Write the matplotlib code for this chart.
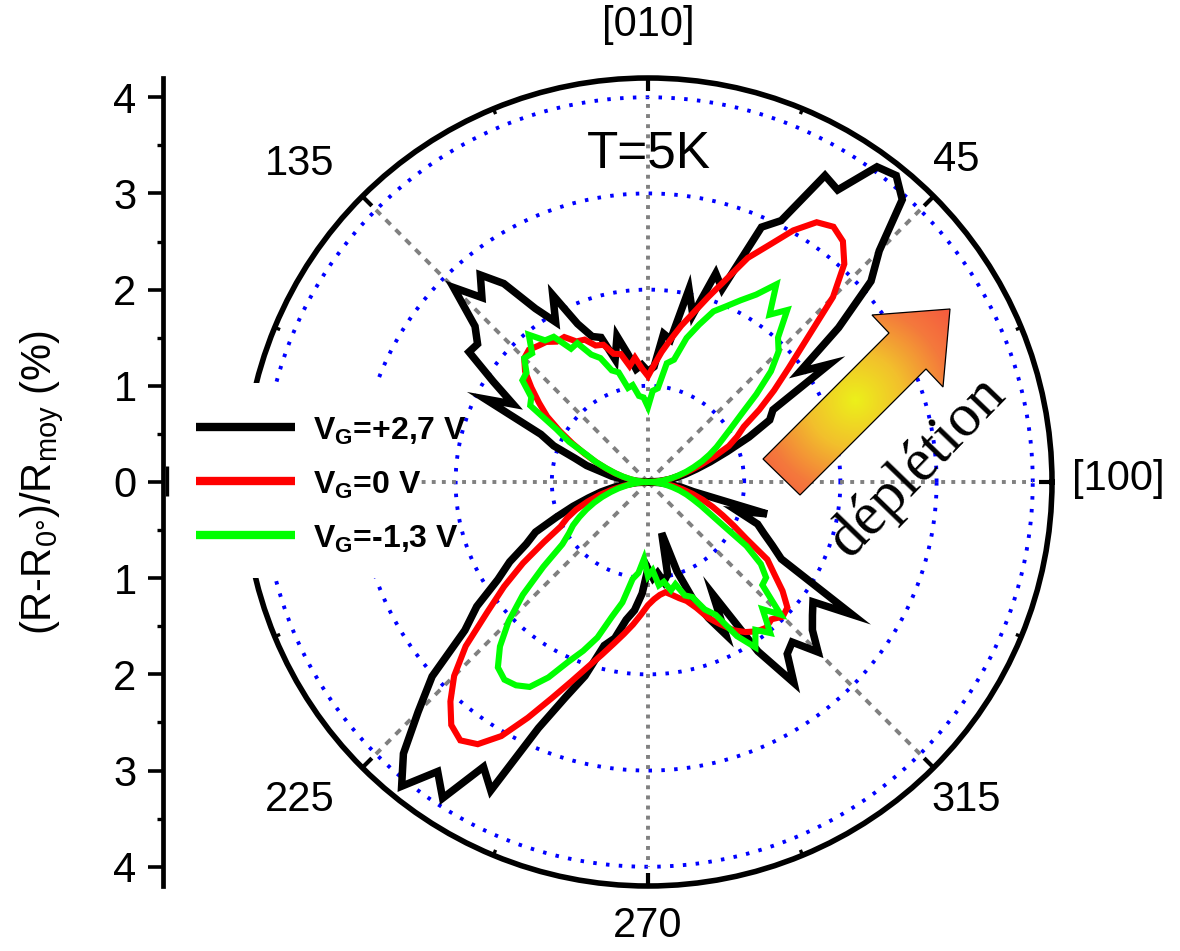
import numpy as np
import matplotlib
matplotlib.use("Agg")
import matplotlib.pyplot as plt
from matplotlib.patches import Polygon, Rectangle
from matplotlib.colors import LinearSegmentedColormap

plt.rcParams['font.family'] = ['Liberation Sans', 'DejaVu Sans']
plt.rcParams['mathtext.fontset'] = 'custom'
plt.rcParams['mathtext.rm'] = 'Liberation Sans'
plt.rcParams['mathtext.it'] = 'Liberation Sans:italic'
plt.rcParams['mathtext.bf'] = 'Liberation Sans:bold'

# ---- data: relative resistance change (%) versus in-plane angle (deg) ----
angle_deg = np.arange(0, 360, 3)

r_vg_p27 = [
    0.00, 0.12, 0.22, 0.30, 0.40, 0.52, 0.68, 0.88, 1.15, 1.42, 1.50, 2.25,
    1.95, 2.55, 3.12, 3.40, 3.95, 4.10, 4.05, 3.62, 3.68, 3.05, 2.90, 2.15,
    2.28, 1.80, 2.05, 1.50, 1.55, 1.20, 1.15, 1.22, 1.18, 1.35, 1.55, 1.32,
    1.58, 1.62, 1.80, 2.18, 1.92, 2.15, 2.55, 2.77, 2.58, 2.86, 2.42, 2.28,
    2.30, 1.92, 1.62, 1.90, 1.22, 1.05, 0.80, 0.66, 0.48, 0.38, 0.25, 0.12,
    0.00, 0.12, 0.24, 0.36, 0.50, 0.64, 0.82, 1.02, 1.28, 1.42, 1.66, 1.86,
    2.20, 2.45, 3.02, 3.38, 3.80, 4.07, 3.72, 3.92, 3.42, 3.60, 2.80, 2.40,
    2.12, 1.76, 1.66, 1.45, 1.34, 1.16, 0.90, 1.00, 0.95, 1.05, 0.98, 0.55,
    0.98, 1.30, 1.55, 1.78, 1.35, 2.10, 2.58, 2.30, 2.24, 2.50, 2.30, 2.20,
    2.12, 2.53, 1.60, 1.45, 1.32, 1.22, 0.98, 1.28, 0.48, 0.35, 0.22, 0.12,
]

r_vg_0 = [
    0.00, 0.08, 0.16, 0.25, 0.34, 0.45, 0.58, 0.74, 0.92, 1.04, 1.15, 1.38,
    1.62, 1.88, 2.22, 2.72, 3.05, 3.22, 3.28, 3.22, 3.02, 2.76, 2.55, 2.25,
    2.02, 1.82, 1.66, 1.50, 1.36, 1.22, 1.10, 1.18, 1.30, 1.22, 1.36, 1.38,
    1.50, 1.52, 1.62, 1.64, 1.74, 1.74, 1.80, 1.82, 1.85, 1.82, 1.72, 1.56,
    1.40, 1.25, 1.06, 0.88, 0.72, 0.58, 0.46, 0.36, 0.27, 0.19, 0.12, 0.06,
    0.00, 0.08, 0.16, 0.26, 0.38, 0.52, 0.66, 0.80, 0.92, 1.02, 1.25, 1.55,
    1.85, 2.15, 2.55, 2.85, 3.07, 3.25, 3.32, 3.25, 3.05, 2.75, 2.46, 2.22,
    2.02, 1.86, 1.72, 1.60, 1.49, 1.38, 1.28, 1.22, 1.18, 1.16, 1.20, 1.25,
    1.30, 1.40, 1.55, 1.66, 1.78, 1.86, 1.92, 1.95, 1.92, 1.98, 1.95, 1.80,
    1.62, 1.48, 1.18, 1.00, 0.85, 0.72, 0.60, 0.48, 0.37, 0.27, 0.17, 0.08,
]

r_vg_m13 = [
    0.00, 0.08, 0.16, 0.24, 0.32, 0.41, 0.50, 0.60, 0.70, 0.80, 0.90, 1.03,
    1.20, 1.45, 1.72, 1.92, 2.02, 2.30, 2.15, 2.45, 2.25, 2.12, 2.00, 1.90,
    1.72, 1.55, 1.30, 1.25, 0.98, 0.95, 0.78, 0.88, 0.90, 1.02, 1.00, 1.18,
    1.22, 1.38, 1.45, 1.62, 1.60, 1.80, 1.82, 1.97, 1.80, 1.82, 1.70, 1.68,
    1.50, 1.46, 1.10, 0.92, 0.70, 0.58, 0.45, 0.35, 0.26, 0.18, 0.11, 0.05,
    0.00, 0.07, 0.14, 0.22, 0.31, 0.40, 0.50, 0.60, 0.70, 0.80, 0.90, 0.98,
    1.10, 1.40, 1.75, 2.05, 2.30, 2.48, 2.54, 2.52, 2.46, 2.28, 2.05, 1.88,
    1.70, 1.45, 1.28, 1.02, 0.95, 0.80, 0.98, 0.92, 1.08, 1.05, 1.15, 1.10,
    1.24, 1.28, 1.45, 1.55, 1.85, 2.05, 1.90, 2.02, 1.78, 1.95, 1.60, 1.58,
    1.45, 1.22, 0.90, 0.72, 0.60, 0.50, 0.42, 0.34, 0.26, 0.19, 0.12, 0.06,
]

series_labels = [r"$\mathbf{V_G}$=+2,7 V", r"$\mathbf{V_G}$=0 V", r"$\mathbf{V_G}$=-1,3 V"]
series_colors = ['black', '#ff0000', '#00ff00']
grid_radii = [1, 2, 3, 4]
left_ticks = [-4, -3, -2, -1, 0, 1, 2, 3, 4]

W, H = 1180, 951
fig = plt.figure(figsize=(W / 100, H / 100), dpi=100)
fig.patch.set_facecolor('white')

# ---- polar axes ----
R_MAX = 4.2
cx, cy, rad = 648, 482, 404
ax = fig.add_axes([(cx - rad) / W, (H - cy - rad) / H, 2 * rad / W, 2 * rad / H],
                  projection='polar')
ax.set_ylim(0, R_MAX)
ax.grid(False)
ax.set_yticks([])
ax.set_xticks([])
ax.spines['polar'].set_linewidth(4.0)

# inward ticks on the outer circle
for a in np.arange(0, 360, 22.5):
    t = np.deg2rad(a)
    major = (a % 45 == 0)
    ln = 0.14 if major else 0.06
    ax.plot([t, t], [R_MAX - ln, R_MAX], color='black', lw=3.0 if major else 2.4,
            solid_capstyle='butt', clip_on=False, zorder=4)

th_full = np.linspace(0, 2 * np.pi, 721)
for rr in grid_radii:
    ax.plot(th_full, np.full_like(th_full, rr), color='#0000ff', lw=2.8,
            ls=(0, (0.9, 2.4)), zorder=1)
for a in range(0, 360, 45):
    t = np.deg2rad(a)
    style = (0, (1.0, 1.6)) if a % 90 == 0 else (0, (1.8, 1.8))
    ax.plot([t, t], [0, 4], color='#808080', lw=2.8, ls=style, zorder=1)

theta = np.deg2rad(np.append(angle_deg, 360))
widths = [5.4, 4.4, 4.4]
for vals, col, lw in zip([r_vg_p27, r_vg_0, r_vg_m13], series_colors, widths):
    rv = np.append(vals, vals[0])
    ax.plot(theta, rv, color=col, lw=lw, solid_joinstyle='miter', zorder=3)

# ---- vertical scale on the left ----
axl = fig.add_axes([163 / W, (H - cy - rad) / H, 0.0005, 2 * rad / H])
axl.set_ylim(-R_MAX, R_MAX)
axl.set_yticks(left_ticks)
axl.set_yticklabels([str(abs(v)) for v in left_ticks], fontsize=30)
axl.set_yticks(np.arange(-3.5, 4.0, 1.0), minor=True)
axl.tick_params(axis='y', which='major', direction='out', length=11, width=2.6, pad=8)
axl.tick_params(axis='y', which='minor', direction='out', length=4.5, width=2.4)
axl.set_xticks([])
for s in ['top', 'right', 'bottom']:
    axl.spines[s].set_visible(False)
axl.spines['left'].set_linewidth(3.4)
axl.patch.set_alpha(0)

# ---- overlay in pixel coordinates for annotations ----
ov = fig.add_axes([0, 0, 1, 1])
ov.set_xlim(0, W)
ov.set_ylim(H, 0)
ov.axis('off')
ov.patch.set_alpha(0)

# small mark at the origin of the left scale
ov.plot([167, 167], [466, 496], color='black', lw=2.4, solid_capstyle='butt')

ov.text(42, 482, r"(R-R$_{0°}$)/R$_{\mathrm{moy}}$ (%)", rotation=90, fontsize=30,
        ha='center', va='center')

angle_labels = [("[010]", 648, 25), ("45", 956, 160), ("135", 300, 164), ("[100]", 1118, 479),
                ("225", 300, 800), ("315", 966, 800), ("270", 648, 926)]
for txt, x, y in angle_labels:
    ov.text(x, y, txt, fontsize=30, ha='center', va='center')

ov.text(649, 154, "T=5K", fontsize=37, ha='center', va='center')

# legend
ov.add_patch(Rectangle((185, 383), 233, 195, facecolor='white', edgecolor='none', zorder=2))
row_y = [427, 481, 535]
for lab, col, y in zip(series_labels, series_colors, row_y):
    ov.plot([196, 295], [y, y], color=col, lw=6, solid_capstyle='butt', zorder=3)
    ov.text(313, y + 13, lab, fontsize=23, fontweight='bold', ha='left', va='baseline', zorder=3)

# gradient arrow
arrow_pts = np.array([(763, 459), (889, 333), (872, 315), (950, 309),
                      (943, 387), (926, 369), (800, 495)])
gx, gy = np.meshgrid(np.arange(755, 958), np.arange(300, 500))
dist = np.hypot(gx - 855, gy - 400)
cmap = LinearSegmentedColormap.from_list('dep', ['#ecf01a', '#f2c02c', '#f4783c', '#f4503f'])
img = ov.imshow(dist / dist.max(), cmap=cmap, extent=(755, 958, 500, 300), origin='upper',
                zorder=2, interpolation='bilinear', aspect='auto')
poly = Polygon(arrow_pts, closed=True, facecolor='none', edgecolor='black', lw=0.9, zorder=3)
ov.add_patch(poly)
img.set_clip_path(poly)
ov.set_xlim(0, W)
ov.set_ylim(H, 0)

ov.text(918, 467, "déplétion", family='Liberation Serif', fontsize=44, rotation=46,
        rotation_mode='anchor', ha='center', va='center')

fig.savefig("out.png", dpi=100, facecolor='white')
